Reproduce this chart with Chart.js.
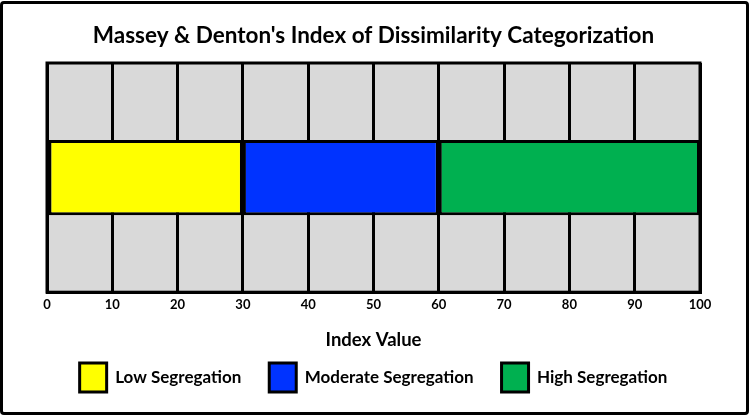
<!DOCTYPE html>
<html>
<head>
<meta charset="utf-8">
<script src="https://cdn.jsdelivr.net/npm/chart.js@4"></script>
<style>
  html, body { margin: 0; padding: 0; background: #fff; }
  #wrap { position: relative; width: 749px; height: 416px; }
  #frame {
    position: absolute; left: 0; top: 1px; width: 749px; height: 414px;
    box-sizing: border-box; border: 3px solid #000; border-radius: 4px;
    pointer-events: none;
  }
</style>
</head>
<body>
<div id="wrap">
  <canvas id="grafico" width="749" height="416"></canvas>
  <div id="frame"></div>
</div>
<script>
const categorias = ["Index"];
const nomesSeries = ["Low Segregation", "Moderate Segregation", "High Segregation"];
const valores = [30, 30, 40];
const cores = ["#FFFF00", "#0033FF", "#00B050"];
const ticksX = [0, 10, 20, 30, 40, 50, 60, 70, 80, 90, 100];

const fonte = "Lato, 'Open Sans', sans-serif";

const fundoArea = {
    id: "fundoArea",
    beforeDraw(chart) {
        const { ctx, chartArea: a } = chart;
        ctx.save();
        ctx.fillStyle = "#D9D9D9";
        ctx.fillRect(a.left, a.top, a.right - a.left, a.bottom - a.top);
        ctx.restore();
    },
    afterDatasetsDraw(chart) {
        const { ctx, chartArea: a } = chart;
        ctx.save();
        ctx.strokeStyle = "#000";
        ctx.lineWidth = 3;
        ctx.strokeRect(a.left, a.top, a.right - a.left, a.bottom - a.top);
        ctx.restore();
    },
};

const ctx = document.getElementById("grafico").getContext("2d");

new Chart(ctx, {
    type: "bar",
    data: {
        labels: categorias,
        datasets: nomesSeries.map((nome, i) => ({
            label: nome,
            data: [valores[i]],
            backgroundColor: cores[i],
            borderColor: "#000",
            borderWidth: 3,
            borderSkipped: false,
            categoryPercentage: 1,
            barPercentage: 0.3275,
        })),
    },
    options: {
        indexAxis: "y",
        responsive: false,
        animation: false,
        layout: { padding: { left: 47, right: 49, top: 0, bottom: 14 } },
        scales: {
            x: {
                stacked: true,
                min: 0,
                max: 100,
                afterBuildTicks: (axis) => {
                    axis.ticks = ticksX.map((v) => ({ value: v }));
                },
                grid: { color: "#000", lineWidth: 3, drawTicks: false },
                border: { display: true, color: "#000", width: 3 },
                ticks: {
                    color: "#000",
                    padding: 5,
                    font: { family: fonte, size: 13, weight: "bold" },
                },
                title: {
                    display: true,
                    text: "Index Value",
                    color: "#000",
                    padding: { top: 11, bottom: -16 },
                    font: { family: fonte, size: 18.5, weight: "bold" },
                },
            },
            y: {
                stacked: true,
                display: false,
            },
        },
        plugins: {
            title: {
                display: true,
                text: "Massey & Denton's Index of Dissimilarity Categorization",
                color: "#000",
                padding: { top: 22, bottom: 14 },
                font: { family: fonte, size: 22.5, weight: "bold" },
            },
            legend: {
                position: "bottom",
                labels: {
                    color: "#000",
                    boxWidth: 27,
                    boxHeight: 29,
                    padding: 28,
                    font: { family: fonte, size: 17, weight: "bold" },
                    generateLabels: (chart) =>
                        Chart.defaults.plugins.legend.labels
                            .generateLabels(chart)
                            .map((item) => ({ ...item, lineWidth: 3 })),
                },
            },
            tooltip: { enabled: false },
        },
    },
    plugins: [fundoArea],
});
</script>
</body>
</html>
